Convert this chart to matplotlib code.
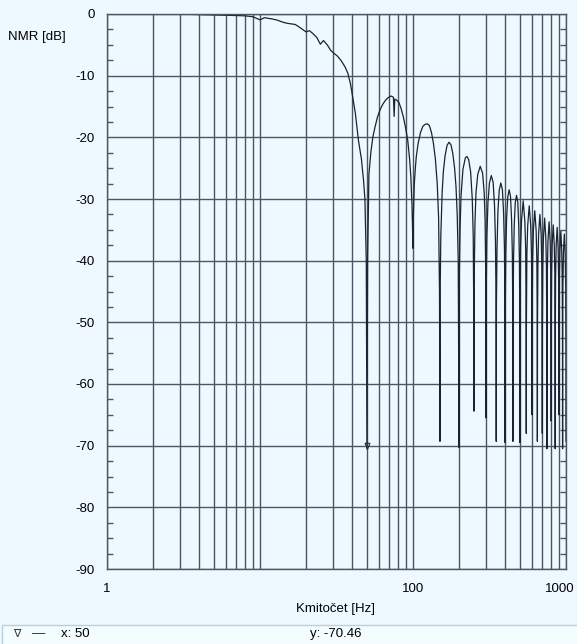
import matplotlib.pyplot as plt
from matplotlib.patches import Rectangle
from matplotlib.transforms import ScaledTranslation
from matplotlib.ticker import FixedLocator, FixedFormatter, MultipleLocator, NullFormatter

plt.rcParams['font.family'] = ['Liberation Sans', 'DejaVu Sans']
plt.rcParams['axes.unicode_minus'] = False

# frekvence [Hz] a NMR [dB] (hlavni lalok + postranni laloky)
freq_hz = [
    3.3, 4, 5, 6, 7, 8, 9, 10, 10.7, 12, 13, 14, 15, 17, 18, 19.5, 20, 21, 22, 23.5,
    24.8, 26, 27.5, 29, 30.5, 32, 34, 36, 37.5, 39, 40, 42, 44, 46, 47.5, 48.5, 49.5, 50,
    50.5, 51.5, 53, 54.6, 56.5, 58.6, 61, 63.6, 66, 68.5, 71.8, 74.5, 75.3, 76, 78.5, 80.8,
    83.5, 86.5, 89.5, 92.4, 95, 96.8, 98.5, 99.5, 100,
    100.5, 102, 103.6, 105, 108, 112, 116, 120, 124, 128, 132, 136, 140, 144, 147, 149, 150,
    150.5, 152, 155, 158, 162, 167, 172, 177, 182, 187, 191, 194.5, 197.5, 200,
    201, 203, 206, 212, 220, 225, 231, 238, 244, 247.5, 249.5, 250,
    251, 254, 258, 265, 275, 285, 292, 296, 299, 300,
    301, 304, 309, 316, 325, 334, 341, 346, 349, 350,
    351, 354, 359, 366, 375, 384, 391, 396, 399, 400,
    401, 404, 409, 416, 425, 434, 441, 446, 449, 450,
    451, 454, 459, 466, 475, 484, 491, 496, 499, 500,
    501, 505, 512, 525, 538, 545, 549, 550,
    551, 555, 562, 575, 588, 595, 599, 600,
    601, 605, 612, 625, 638, 645, 649, 650,
    651, 655, 662, 675, 688, 695, 699, 700,
    701, 705, 712, 725, 738, 745, 749, 750,
    751, 755, 762, 775, 788, 795, 799, 800,
    801, 805, 812, 825, 838, 845, 849, 850,
    851, 855, 862, 875, 888, 895, 899, 900,
    901, 905, 912, 925, 938, 945, 949, 950,
    951, 955, 962, 975, 988, 995, 999, 1000,
]
nmr_db = [
    -0.05, -0.1, -0.15, -0.2, -0.25, -0.3, -0.45, -0.95, -0.6, -0.8, -1.0, -1.3, -1.5, -1.7, -2.1, -2.7, -2.9, -2.7, -3.1, -3.8,
    -4.9, -4.3, -5.0, -5.9, -6.4, -6.8, -7.6, -8.6, -9.6, -11.3, -12.9, -16.1, -20.5, -23.5, -27, -30, -40, -70.46,
    -40, -26, -22.5, -20, -18.3, -16.7, -15.5, -14.6, -14.0, -13.6, -13.3, -13.5, -16.6, -13.8, -14.0, -14.3,
    -15.3, -16.7, -18.5, -20.5, -23.5, -26.4, -31, -36, -38,
    -33, -27.5, -25, -23.2, -21, -19.2, -18.2, -17.9, -17.8, -18.1, -19.2, -21, -23.5, -27.5, -33, -45, -69.3,
    -45, -36, -29, -25.5, -23, -21.3, -20.8, -21.2, -22.6, -25, -28, -32.5, -40, -70.3,
    -42, -35, -29.5, -25.2, -23.3, -23.1, -23.6, -25.6, -30, -36, -48, -64.4,
    -44, -34, -29, -26, -24.7, -25.8, -29, -33.5, -43, -65.5,
    -45, -36, -30.5, -27.4, -26.2, -27.3, -31, -37, -47, -69.3,
    -47, -38, -32, -28.6, -27.4, -28.5, -32.3, -38, -48, -69.5,
    -48, -39, -33.2, -29.7, -28.5, -29.6, -33.4, -39, -49, -69.3,
    -49, -40, -34.1, -30.6, -29.4, -30.5, -34.3, -40, -50, -69.5,
    -50, -38, -33.5, -30.3, -33.5, -38, -50, -68,
    -50, -39, -34.3, -31.1, -34.3, -39, -50, -65,
    -50, -40, -35.1, -31.9, -35.1, -40, -51, -69.3,
    -51, -41, -35.7, -32.5, -35.7, -41, -52, -68,
    -51, -41, -36.3, -33.1, -36.3, -41, -52, -70.5,
    -52, -42, -36.9, -33.7, -36.9, -42, -53, -66,
    -52, -42, -37.4, -34.2, -37.4, -42, -53, -70.5,
    -53, -43, -37.8, -34.6, -37.8, -43, -54, -65,
    -53, -43, -38.4, -35.2, -38.4, -43, -54, -70.5,
    -54, -44, -38.9, -35.7, -38.9, -44, -55, -69.3,
]

marker_x = 50
marker_y = -70.46

x_ticks = [1, 10, 100, 1000]
x_tick_labels = ['1', '', '100', '1000']
x_minor = [2, 3, 4, 5, 6, 7, 8, 9, 20, 30, 40, 50, 60, 70, 80, 90,
           200, 300, 400, 500, 600, 700, 800, 900]

bg = '#edf9fe'
grid_c = '#4a5663'
W, H = 577, 644

fig = plt.figure(figsize=(W / 100, H / 100), dpi=100, facecolor=bg)
ax = fig.add_axes([107 / W, 1 - 569 / H, (566 - 107) / W, (569 - 14) / H])
ax.set_facecolor(bg)

ax.set_xscale('log')
ax.set_xlim(1, 1000)
ax.set_ylim(-90, 0)

ax.xaxis.set_major_locator(FixedLocator(x_ticks))
ax.xaxis.set_major_formatter(FixedFormatter(x_tick_labels))
ax.xaxis.set_minor_locator(FixedLocator(x_minor))
ax.xaxis.set_minor_formatter(NullFormatter())
ax.yaxis.set_major_locator(MultipleLocator(10))
ax.yaxis.set_minor_locator(MultipleLocator(2.5))

ax.grid(which='both', axis='x', color=grid_c, lw=1.0)
ax.grid(which='major', axis='y', color=grid_c, lw=1.0)
ax.set_axisbelow(True)

ax.tick_params(axis='x', which='both', length=0, pad=10, labelsize=9.5)
ax.tick_params(axis='y', which='major', length=0, pad=9, labelsize=9.5)
ax.tick_params(axis='y', which='minor', length=4, direction='in',
               left=True, right=True, color=grid_c, width=1)
for s in ax.spines.values():
    s.set_color(grid_c)
    s.set_linewidth(1.0)

# posledni popisek (1000) trochu doleva, aby se vesel
lbl = ax.get_xticklabels()[-1]
lbl.set_transform(lbl.get_transform() + ScaledTranslation(-6 / 100, 0, fig.dpi_scale_trans))

ax.plot(freq_hz, nmr_db, color='#1c2230', lw=0.9)

# znacka kurzoru (spicka trojuhelniku v bode)
tri = [(0, 0), (-0.5, 1.3), (0.5, 1.3), (0, 0)]
ax.plot([marker_x], [marker_y], marker=tri, markersize=9, markerfacecolor='none',
        markeredgecolor='#2a2f3a', markeredgewidth=0.8, ls='none')

fig.text(37 / W, 1 - 37 / H, 'NMR [dB]', ha='center', va='center', fontsize=9.5)
fig.text(336 / W, 1 - 609 / H, 'Kmitočet [Hz]', ha='center', va='center', fontsize=9.5)

# stavovy radek
fig.patches.append(Rectangle((2 / W, -0.01), 1.0, (H - 625) / H + 0.01,
                             transform=fig.transFigure, facecolor='#f3fcff',
                             edgecolor='#b9d0e2', lw=1.0))
fig.text(17 / W, 1 - 634 / H, '∇', ha='center', va='center', fontsize=8, color='#333333',
         family=['DejaVu Sans'])
fig.text(39 / W, 1 - 634 / H, '—', ha='center', va='center', fontsize=9.5, color='#222222')
fig.text(61 / W, 1 - 634 / H, 'x: 50', ha='left', va='center', fontsize=9.5)
fig.text(310 / W, 1 - 634 / H, 'y: -70.46', ha='left', va='center', fontsize=9.5)

fig.savefig('out.png', dpi=100, facecolor=bg)
